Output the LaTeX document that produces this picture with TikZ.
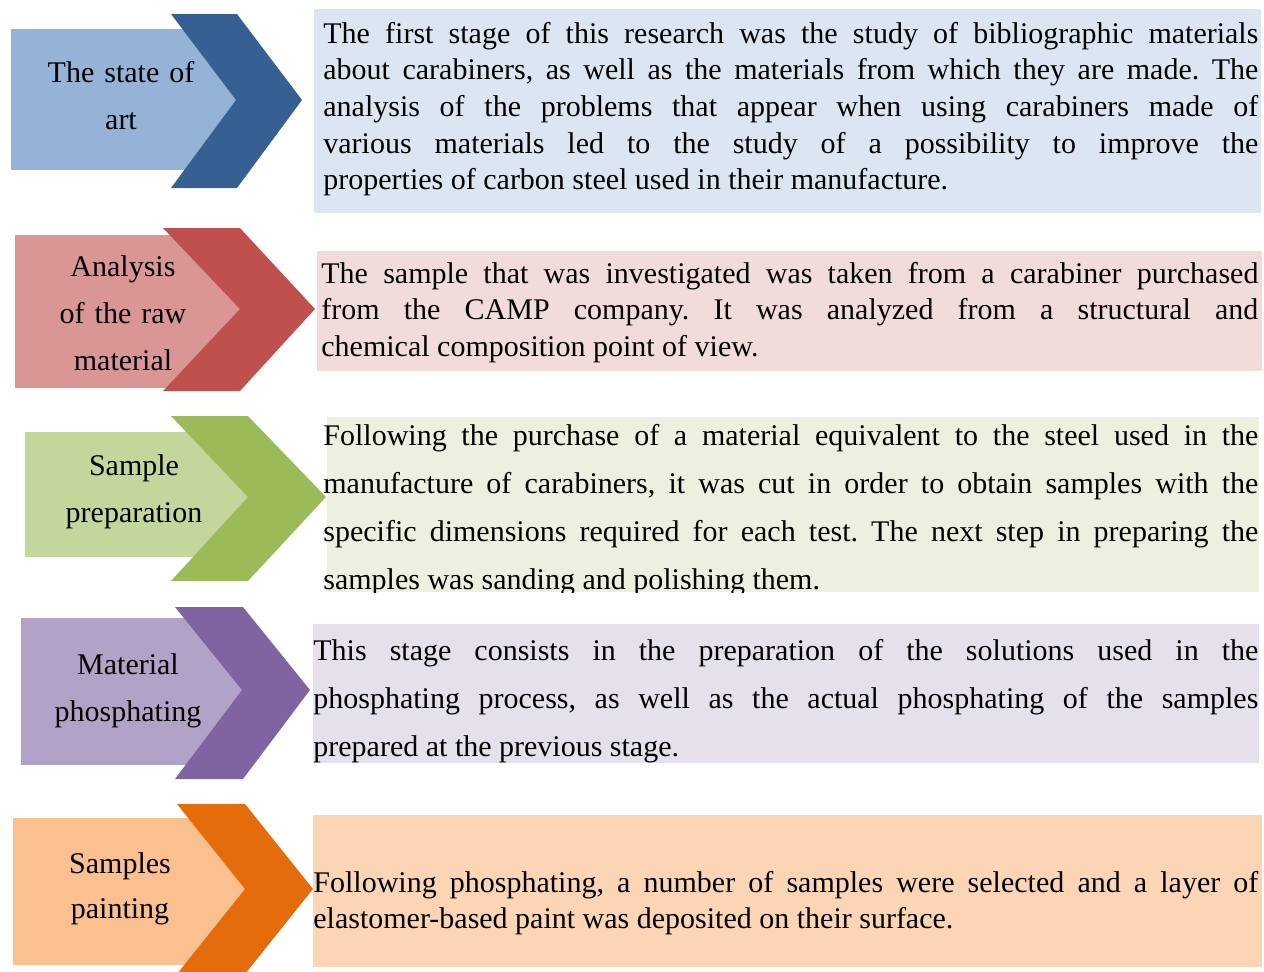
\documentclass[tikz,border=0pt]{standalone}
\usepackage{fontspec}
\setmainfont{Liberation Serif}
\usepackage{tikz}
\frenchspacing
\definecolor{ArtLight}{HTML}{95B3D7}
\definecolor{ArtDark}{HTML}{376092}
\definecolor{ArtBack}{HTML}{DCE6F2}
\definecolor{RawLight}{HTML}{D99694}
\definecolor{RawDark}{HTML}{C0504D}
\definecolor{RawBack}{HTML}{F2DCDB}
\definecolor{PrepLight}{HTML}{C3D69B}
\definecolor{PrepDark}{HTML}{9BBB59}
\definecolor{PrepBack}{HTML}{EBF1DE}
\definecolor{PhosLight}{HTML}{B3A2C7}
\definecolor{PhosDark}{HTML}{8064A2}
\definecolor{PhosBack}{HTML}{E5E0EC}
\definecolor{PaintLight}{HTML}{FAC090}
\definecolor{PaintDark}{HTML}{E46C0A}
\definecolor{PaintBack}{HTML}{FCD5B5}

\begin{document}
\begin{tikzpicture}[x=0.5pt,y=-0.5pt,
    stage/.style={align=center,anchor=base,inner sep=0pt,text width=100pt,font=\fontsize{15}{23.5}\selectfont},
    note/.style={align=justify,anchor=base west,inner sep=0pt,text width=467.5pt,font=\fontsize{15}{18.35}\selectfont},
    loose/.style={font=\fontsize{15}{24}\selectfont}]
  \useasboundingbox (0,0) rectangle (1264,971);

  % the state of art
  \fill[ArtBack] (314,9) rectangle (1261,213);
  \fill[ArtLight] (11,29) rectangle (236,170);
  \fill[ArtDark] (171,14) -- (237,14) -- (302,100) -- (237,188) -- (171,188) -- (236,100) -- cycle;
  \node[stage] (art) at (121,82) {The state of\\art};
  \node[note] (artnote) at (323,43) {The first stage of this research was the study of bibliographic materials\linebreak
    about carabiners, as well as the materials from which they are made. The\linebreak
    analysis of the problems that appear when using carabiners made of\linebreak
    various materials led to the study of a possibility to improve the\linebreak
    properties of carbon steel used in their manufacture.};

  % raw material
  \fill[RawBack] (317,251) rectangle (1262,371);
  \fill[RawLight] (15,235) rectangle (240,388);
  \fill[RawDark] (163,228) -- (240,228) -- (315,309) -- (240,391) -- (163,391) -- (240,309) -- cycle;
  \node[stage] (raw) at (123,276) {Analysis\\of the raw\\material};
  \node[note,text width=468.5pt] (rawnote) at (321,283) {The sample that was investigated was taken from a carabiner purchased\linebreak
    from the CAMP company. It was analyzed from a structural and\linebreak
    chemical composition point of view.};

  % sample preparation
  \fill[PrepBack] (327,417) rectangle (1259,592);
  \fill[PrepLight] (25,432) rectangle (248,557);
  \fill[PrepDark] (171,416) -- (248,416) -- (326,497) -- (248,581) -- (171,581) -- (248,497) -- cycle;
  \node[stage] (prep) at (134,475) {Sample\\preparation};
  \begin{scope}
    \clip (300,417) rectangle (1264,592);
    \node[note,loose] (prepnote) at (323,445) {Following the purchase of a material equivalent to the steel used in the\linebreak
      manufacture of carabiners, it was cut in order to obtain samples with the\linebreak
      specific dimensions required for each test. The next step in preparing the\linebreak
      samples was sanding and polishing them.};
  \end{scope}

  % phosphating
  \fill[PhosBack] (313,624) rectangle (1259,763);
  \fill[PhosLight] (21,618) rectangle (242,765);
  \fill[PhosDark] (175,607) -- (243,607) -- (310,690) -- (243,779) -- (175,779) -- (242,690) -- cycle;
  \node[stage] (phos) at (128,674) {Material\\phosphating};
  \node[note,loose,text width=472.5pt] (phosnote) at (313,660) {This stage consists in the preparation of the solutions used in the\linebreak
    phosphating process, as well as the actual phosphating of the samples\linebreak
    prepared at the previous stage.};

  % painting
  \fill[PaintBack] (313,815) rectangle (1262,967);
  \fill[PaintLight] (13,818) rectangle (245,965);
  \fill[PaintDark] (177,804) -- (245,804) -- (313,889) -- (245,974) -- (177,974) -- (245,889) -- cycle;
  \node[stage,font=\fontsize{15}{22.5}\selectfont] (paint) at (120,873) {Samples\\painting};
  \node[note,text width=472.5pt,font=\fontsize{15}{18}\selectfont] (paintnote) at (313,892) {Following phosphating, a number of samples were selected and a layer of\linebreak
    elastomer-based paint was deposited on their surface.};
\end{tikzpicture}
\end{document}
